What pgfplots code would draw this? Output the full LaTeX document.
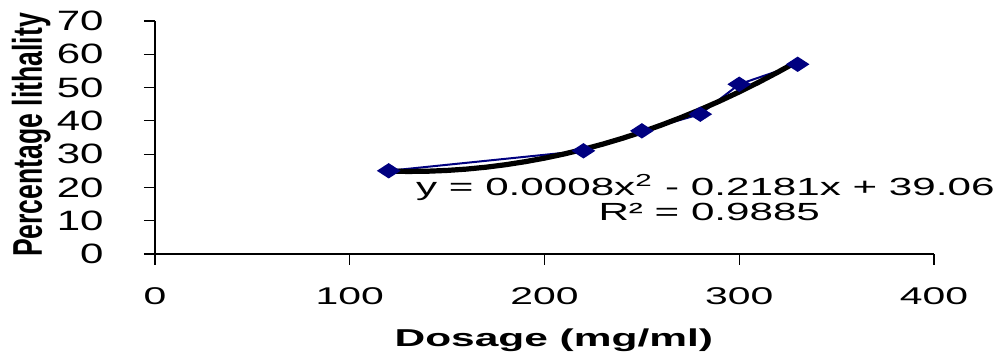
\documentclass[border=0pt]{standalone}
\usepackage{pgfplots}
\pgfplotsset{compat=1.18}
\usepackage{fontspec}
\setmainfont{Liberation Sans}
\definecolor{navy}{RGB}{0,0,128}
\newcommand\sx[1]{\scalebox{1.69}[1]{#1}}
\newcommand\sy[1]{\scalebox{1.5}[1]{#1}}
\begin{document}
\begin{tikzpicture}
\begin{axis}[
  at={(0,0)}, anchor=south west,
  scale only axis, width=389.5pt, height=116.5pt,
  xmin=0, xmax=400, ymin=0, ymax=70,
  axis lines=left,
  axis line style={-, line width=0.6pt, black},
  clip=false,
  xtick={0,100,200,300,400},
  xticklabels={\sx{0},\sx{100},\sx{200},\sx{300},\sx{400}},
  ytick={0,10,20,30,40,50,60,70},
  yticklabels={\sy{0},\sy{10},\sy{20},\sy{30},\sy{40},\sy{50},\sy{60},\sy{70}},
  tick align=outside,
  major tick length=5.5pt,
  xtick style={line width=0.6pt, black},
  ytick style={line width=0.6pt, black},
  xticklabel style={font=\fontsize{12.1}{14}\selectfont, yshift=-8pt},
  yticklabel style={font=\fontsize{14}{16}\selectfont, anchor=east, inner sep=0pt, xshift=-20pt},
  xlabel={\scalebox{1.74}[1]{\bfseries Dosage (mg/ml)}},
  xlabel style={at={(axis description cs:0.512,-0.399)}, anchor=base, font=\fontsize{12.2}{14}\selectfont},
  ylabel={\scalebox{1.09}[1.7]{\bfseries Percentage lithality}},
  ylabel style={at={(axis description cs:-0.159,0.511)}, anchor=center, font=\fontsize{12.2}{14}\selectfont},
]
\addplot[navy, line width=1pt, mark=diamond*, mark size=3.25pt,
  mark options={solid, fill=navy, draw=navy, xscale=2.05}]
  coordinates {(120,25) (220,31) (250,37) (280,42) (300,51) (330,57)};
\addplot[black, line width=2.6pt, line join=round, line cap=round]
  coordinates {(120,24.90) (130,24.80) (140,24.87) (150,25.11) (160,25.51)
   (170,26.08) (180,26.82) (190,27.73) (200,28.80) (210,30.04) (220,31.45)
   (230,33.02) (240,34.76) (250,36.66) (260,38.74) (270,40.98) (280,43.38)
   (290,45.96) (300,48.70) (310,51.60) (320,54.68) (330,57.92)};
\node[anchor=base, font=\fontsize{12.4}{14}\selectfont] at (axis cs:282.6,17.7)
  {\scalebox{1.7}[1]{y = 0.0008x\textsuperscript{2} - 0.2181x + 39.06}};
\node[anchor=base, font=\fontsize{12.4}{14}\selectfont] at (axis cs:284.6,10.2)
  {\scalebox{1.7}[1]{R² = 0.9885}};
\end{axis}
\pgfresetboundingbox
\path[use as bounding box] (-77.5pt,-49.5pt) rectangle (426.5pt,127pt);
\end{tikzpicture}
\end{document}
